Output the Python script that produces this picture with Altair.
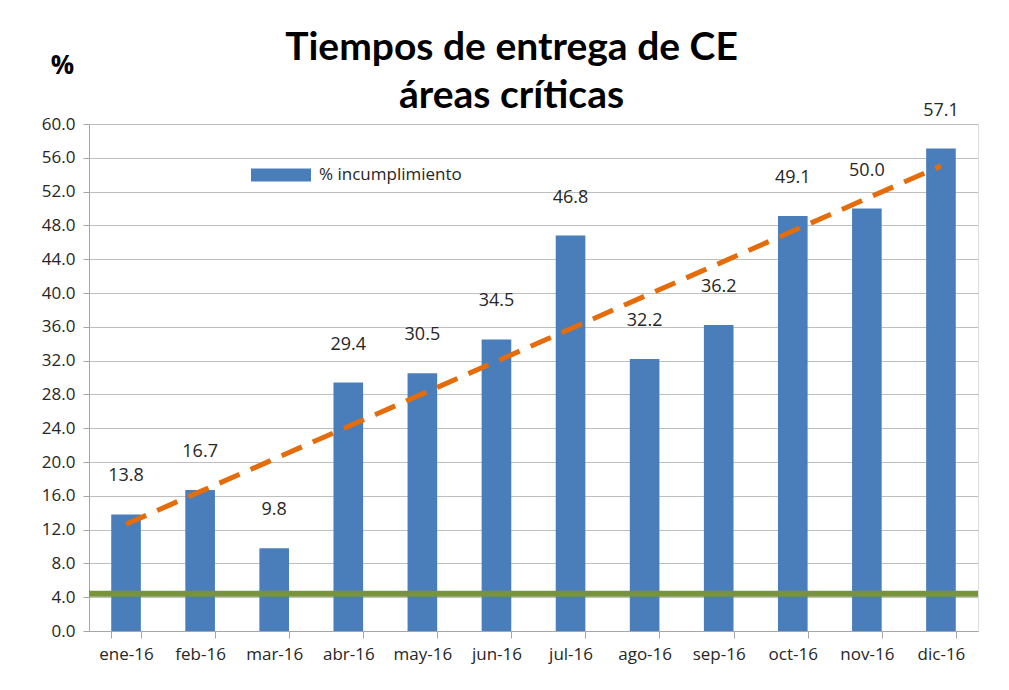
import altair as alt
import pandas as pd
import numpy as np

meses = ["ene-16", "feb-16", "mar-16", "abr-16", "may-16", "jun-16",
         "jul-16", "ago-16", "sep-16", "oct-16", "nov-16", "dic-16"]
incumplimiento = [13.8, 16.7, 9.8, 29.4, 30.5, 34.5, 46.8, 32.2, 36.2, 49.1, 50.0, 57.1]
meta = 4.4
y_ticks = [0.0, 4.0, 8.0, 12.0, 16.0, 20.0, 24.0, 28.0, 32.0, 36.0, 40.0,
           44.0, 48.0, 52.0, 56.0, 60.0]
serie = "% incumplimiento"

df = pd.DataFrame({"mes": meses, "valor": incumplimiento, "serie": serie})
df["label"] = [f"{v:.1f}" for v in incumplimiento]

# linear trend from the data
idx = np.arange(1, len(meses) + 1)
slope, intercept = np.polyfit(idx, incumplimiento, 1)
df["tendencia"] = slope * idx + intercept

BLUE = "#4a7ebb"
ORANGE = "#e46c0a"
GREEN = "#77933c"
FONT = "Open Sans"

x_enc = alt.X("mes:N", sort=meses, title=None,
              scale=alt.Scale(paddingInner=0.6, paddingOuter=0.3),
              axis=alt.Axis(labelAngle=0, labelFontSize=17, labelColor="#262626",
                            labelFont=FONT, tickBand="extent", tickSize=7,
                            tickColor="#a6a6a6", domainColor="#a6a6a6",
                            labelPadding=8, grid=False))

y_scale = alt.Scale(domain=[0, 60], nice=False)

y_axis = alt.Axis(values=y_ticks, tickCount=40, labelOverlap=False,
                  format=".1f", labelFontSize=17, labelColor="#262626",
                  labelFont=FONT, tickSize=6, tickColor="#a6a6a6",
                  domainColor="#a6a6a6", gridColor="#bfbfbf",
                  labelPadding=8,
                  title="%", titleAngle=0, titleX=-27, titleY=-59,
                  titleAlign="center", titleBaseline="middle",
                  titleFontSize=26, titleFont=FONT, titleFontWeight="bold",
                  titleColor="#000000")

bars = alt.Chart(df).mark_bar(color=BLUE).encode(
    x=x_enc,
    y=alt.Y("valor:Q", scale=y_scale, axis=y_axis),
    color=alt.Color("serie:N", scale=alt.Scale(range=[BLUE]),
                    legend=alt.Legend(orient="none", legendX=162, legendY=21,
                                      title=None, labelFontSize=17, labelFont=FONT,
                                      labelColor="#262626",
                                      symbolType="M-1,-0.22L1,-0.22L1,0.22L-1,0.22Z",
                                      symbolSize=3600, symbolStrokeWidth=0,
                                      symbolOpacity=1, labelOffset=8)),
)

labels = alt.Chart(df).mark_text(baseline="middle", dy=-38, fontSize=18,
                                 font=FONT, color="#262626").encode(
    x=alt.X("mes:N", sort=meses),
    y=alt.Y("valor:Q", scale=y_scale, axis=y_axis),
    text="label:N",
)

goal = alt.Chart(pd.DataFrame({"meta": [meta]})).mark_rule(
    color=GREEN, strokeWidth=6).encode(
    y=alt.Y("meta:Q", scale=y_scale, axis=y_axis),
)

trend = alt.Chart(df).mark_line(color=ORANGE, strokeWidth=5,
                                strokeDash=[22, 12]).encode(
    x=alt.X("mes:N", sort=meses),
    y=alt.Y("tendencia:Q", scale=y_scale, axis=y_axis),
)

chart = alt.layer(bars, goal, trend, labels).properties(
    width=889, height=507,
    autosize=alt.AutoSizeParams(type="none"),
    padding={"left": 81, "top": 116, "right": 23, "bottom": 51},
    title=alt.Title(["Tiempos de entrega de CE", "áreas críticas"],
                    font="Lato", fontSize=39, fontWeight="bold", color="#000000",
                    anchor="middle", dx=-22, offset=-64, lineHeight=48),
).configure_view(stroke=None).configure(background="white")

chart.save("out.html", embed_options={"renderer": "svg", "actions": False})
